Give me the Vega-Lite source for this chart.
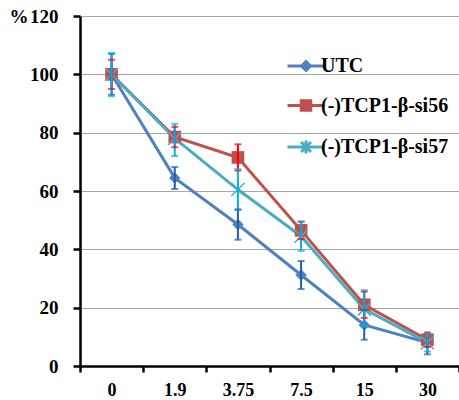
{
  "$schema": "https://vega.github.io/schema/vega-lite/v6.json",
  "width": 379,
  "height": 350,
  "autosize": {"type": "none"},
  "padding": {"left": 80, "top": 16, "right": 0, "bottom": 34},
  "background": "white",
  "config": {"view": {"stroke": null}, "font": "Liberation Serif"},
  "data": {
    "values": [
      {"s": "UTC", "dose": "0", "v": 100, "lo": 93, "hi": 107},
      {"s": "UTC", "dose": "1.9", "v": 64.5, "lo": 60.7, "hi": 68.2},
      {"s": "UTC", "dose": "3.75", "v": 48.5, "lo": 43.3, "hi": 53.7},
      {"s": "UTC", "dose": "7.5", "v": 31.2, "lo": 26.4, "hi": 36},
      {"s": "UTC", "dose": "15", "v": 14.1, "lo": 9, "hi": 19.2},
      {"s": "UTC", "dose": "30", "v": 8, "lo": 4, "hi": 11},
      {"s": "(-)TCP1-β-si56", "dose": "0", "v": 100, "lo": 95, "hi": 105},
      {"s": "(-)TCP1-β-si56", "dose": "1.9", "v": 78.5, "lo": 75, "hi": 82},
      {"s": "(-)TCP1-β-si56", "dose": "3.75", "v": 71.5, "lo": 67, "hi": 76},
      {"s": "(-)TCP1-β-si56", "dose": "7.5", "v": 46.5, "lo": 43.5, "hi": 49.5},
      {"s": "(-)TCP1-β-si56", "dose": "15", "v": 21, "lo": 16.5, "hi": 25.5},
      {"s": "(-)TCP1-β-si56", "dose": "30", "v": 9, "lo": 6.5, "hi": 11.5},
      {"s": "(-)TCP1-β-si57", "dose": "0", "v": 100, "lo": 92.5, "hi": 107.3},
      {"s": "(-)TCP1-β-si57", "dose": "1.9", "v": 78, "lo": 72, "hi": 83},
      {"s": "(-)TCP1-β-si57", "dose": "3.75", "v": 60.5, "lo": 53.5, "hi": 67.5},
      {"s": "(-)TCP1-β-si57", "dose": "7.5", "v": 44.5, "lo": 39.5, "hi": 49.5},
      {"s": "(-)TCP1-β-si57", "dose": "15", "v": 19.5, "lo": 13.5, "hi": 26},
      {"s": "(-)TCP1-β-si57", "dose": "30", "v": 8, "lo": 5, "hi": 11}
    ]
  },
  "encoding": {
    "x": {
      "field": "dose",
      "type": "ordinal",
      "sort": ["0", "1.9", "3.75", "7.5", "15", "30"],
      "scale": {"type": "band", "paddingInner": 0, "paddingOuter": 0},
      "axis": {
        "title": null,
        "labelAngle": 0,
        "grid": false,
        "domainColor": "black",
        "domainWidth": 2.5,
        "tickColor": "black",
        "tickWidth": 2.5,
        "tickSize": 6,
        "tickBand": "extent",
        "labelFont": "Liberation Serif",
        "labelFontWeight": "bold",
        "labelFontSize": 18,
        "labelColor": "black",
        "labelPadding": 9
      }
    }
  },
  "layer": [
    {
      "mark": {"type": "point", "filled": true, "opacity": 0},
      "encoding": {
        "y": {
          "field": "v",
          "type": "quantitative",
          "scale": {"domain": [0, 120], "nice": false},
          "axis": {
            "title": "%",
            "titleAngle": 0,
            "titleX": -71,
            "titleY": 0,
            "titleAlign": "left",
            "titleBaseline": "middle",
            "titleFont": "Liberation Serif",
            "titleFontSize": 19,
            "titleFontWeight": "bold",
            "titleColor": "black",
            "values": [0, 20, 40, 60, 80, 100, 120],
            "domainColor": "black",
            "domainWidth": 2.5,
            "tickColor": "black",
            "tickWidth": 2.5,
            "tickSize": 7,
            "labelPadding": 15,
            "labelFont": "Liberation Serif",
            "labelFontWeight": "bold",
            "labelFontSize": 19,
            "labelColor": "black",
            "gridColor": "#A6A6A6",
            "gridWidth": 1
          }
        },
        "shape": {
          "field": "s",
          "type": "nominal",
          "scale": {
            "domain": ["UTC", "(-)TCP1-β-si56", "(-)TCP1-β-si57"],
            "range": [
              "M-3.7,0L3.7,0M0,-0.9L0.9,0L0,0.9L-0.9,0Z",
              "M-3.7,0L3.7,0M-0.95,-0.95L0.95,-0.95L0.95,0.95L-0.95,0.95Z",
              "M-3.7,0L3.7,0M-1,-1L1,1M-1,1L1,-1M0,-1.3L0,1.3"
            ]
          },
          "legend": {
            "title": null,
            "orient": "none",
            "legendX": 216,
            "legendY": 40,
            "padding": 0,
            "symbolSize": 100,
            "symbolStrokeWidth": 3,
            "symbolOpacity": 1,
            "labelOffset": 5,
            "rowPadding": 17.5,
            "labelFont": "Liberation Serif",
            "labelFontWeight": "bold",
            "labelFontSize": 20,
            "labelColor": "black"
          }
        },
        "fill": {
          "field": "s",
          "type": "nominal",
          "scale": {
            "domain": ["UTC", "(-)TCP1-β-si56", "(-)TCP1-β-si57"],
            "range": ["#4F81BD", "#C0504D", "#4BACC6"]
          }
        },
        "stroke": {
          "field": "s",
          "type": "nominal",
          "scale": {
            "domain": ["UTC", "(-)TCP1-β-si56", "(-)TCP1-β-si57"],
            "range": ["#4F81BD", "#C0504D", "#4BACC6"]
          }
        }
      }
    },
    {
      "mark": {"type": "line", "strokeWidth": 3},
      "encoding": {
        "y": {"field": "v", "type": "quantitative"},
        "stroke": {"field": "s", "type": "nominal"},
        "order": {"value": null}
      }
    },
    {
      "transform": [{"filter": "datum.s === 'UTC'"}],
      "mark": {"type": "point", "shape": "diamond", "filled": true, "size": 130, "color": "#4F81BD", "opacity": 1},
      "encoding": {"y": {"field": "v", "type": "quantitative"}}
    },
    {
      "transform": [{"filter": "datum.s === '(-)TCP1-β-si56'"}],
      "mark": {"type": "point", "shape": "square", "filled": true, "size": 160, "color": "#C0504D", "opacity": 1},
      "encoding": {"y": {"field": "v", "type": "quantitative"}}
    },
    {
      "transform": [{"filter": "datum.s === '(-)TCP1-β-si57'"}],
      "mark": {"type": "point", "shape": "M-1,-1L1,1M-1,1L1,-1M0,-1.3L0,1.3", "filled": false, "size": 170, "color": "#4BACC6", "strokeWidth": 1.5, "opacity": 1},
      "encoding": {"y": {"field": "v", "type": "quantitative"}}
    },
    {
      "mark": {"type": "rule", "strokeWidth": 2},
      "encoding": {
        "y": {"field": "lo", "type": "quantitative"},
        "y2": {"field": "hi"},
        "color": {
          "field": "s",
          "type": "nominal",
          "scale": {
            "domain": ["UTC", "(-)TCP1-β-si56", "(-)TCP1-β-si57"],
            "range": ["#1F5FB0", "#FF0000", "#00B0F0"]
          },
          "legend": null
        }
      }
    },
    {
      "mark": {"type": "tick", "size": 7, "thickness": 2},
      "encoding": {
        "y": {"field": "lo", "type": "quantitative"},
        "color": {"field": "s", "type": "nominal", "legend": null}
      }
    },
    {
      "mark": {"type": "tick", "size": 7, "thickness": 2},
      "encoding": {
        "y": {"field": "hi", "type": "quantitative"},
        "color": {"field": "s", "type": "nominal", "legend": null}
      }
    }
  ]
}
